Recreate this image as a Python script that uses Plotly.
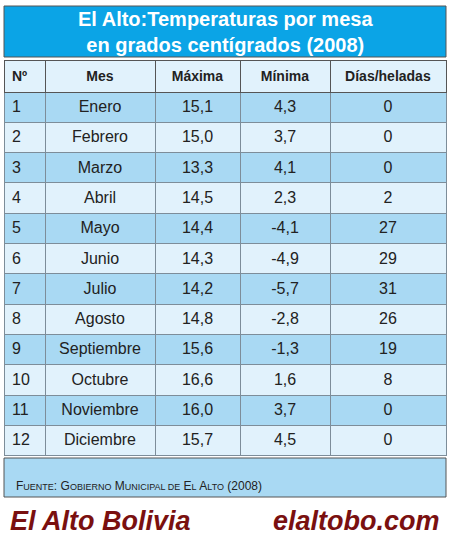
import plotly.graph_objects as go

nums = ["1","2","3","4","5","6","7","8","9","10","11","12"]
meses = ["Enero","Febrero","Marzo","Abril","Mayo","Junio","Julio","Agosto","Septiembre","Octubre","Noviembre","Diciembre"]
maxima = ["15,1","15,0","13,3","14,5","14,4","14,3","14,2","14,8","15,6","16,6","16,0","15,7"]
minima = ["4,3","3,7","4,1","2,3","-4,1","-4,9","-5,7","-2,8","-1,3","1,6","3,7","4,5"]
heladas = ["0","0","0","2","27","29","31","26","19","8","0","0"]
headers = ["Nº","Mes","Máxima","Mínima","Días/heladas"]

W, H = 451, 540
odd, even = "#a9d9f3", "#e1f2fc"
rowcol = [odd if i % 2 == 0 else even for i in range(12)]
F = "Liberation Sans, Arial, sans-serif"

fig = go.Figure(go.Table(
    domain=dict(x=[4/W, 446/W], y=[1-460/H, 1-60/H]),
    columnwidth=[41, 110, 85, 90, 116],
    header=dict(values=["<b>%s</b>" % h for h in headers],
                fill_color="#e1f2fc", line=dict(color="#555", width=1),
                align=["left","center","center","center","center"],
                font=dict(family=F, size=14, color="#222"), height=30),
    cells=dict(values=[nums, meses, maxima, minima, heladas],
               fill_color=[rowcol]*5, line=dict(color="#7d8d99", width=1),
               align=["left","center","center","center","center"],
               font=dict(family=F, size=16, color="#222"), height=30.3),
))

sc = lambda s: "<span style='font-size:9px'>%s</span>" % s
footer = ("F" + sc("UENTE") + ": G" + sc("OBIERNO") + " M" + sc("UNICIPAL DE") +
          " E" + sc("L") + " A" + sc("LTO") + " (2008)")

fig.update_layout(
    width=W, height=H, margin=dict(l=0, r=0, t=0, b=0),
    paper_bgcolor="white", plot_bgcolor="rgba(0,0,0,0)",
    xaxis=dict(visible=False, range=[0, W], domain=[0, 1]),
    yaxis=dict(visible=False, range=[H, 0], domain=[0, 1]),
    shapes=[
        dict(type="rect", xref="x", yref="y", x0=4, x1=446, y0=6, y1=57,
             fillcolor="#0ba4e6", line=dict(color="#555", width=1)),
        dict(type="rect", xref="x", yref="y", x0=4, x1=446, y0=458, y1=497,
             fillcolor=odd, line=dict(color="#555", width=1)),
    ],
    annotations=[
        dict(x=225, y=32, xref="x", yref="y", showarrow=False,
             text="<b>El Alto:Temperaturas por mesa<br>en grados centígrados (2008)</b>",
             font=dict(family=F, size=20, color="white")),
        dict(x=14, y=486, xref="x", yref="y", showarrow=False, xanchor="left",
             text=footer, font=dict(family=F, size=12, color="#222")),
        dict(x=8, y=521, xref="x", yref="y", showarrow=False, xanchor="left",
             text="<b><i>El Alto Bolivia</i></b>", font=dict(family=F, size=27, color="#7a1010")),
        dict(x=442, y=521, xref="x", yref="y", showarrow=False, xanchor="right",
             text="<b><i>elaltobo.com</i></b>", font=dict(family=F, size=27, color="#7a1010")),
    ],
)
fig.write_html("out.html", config={"displayModeBar": False})
with open("out.html", encoding="utf-8") as f:
    html = f.read()
html = html.replace("<body>", '<body style="margin:0;overflow:hidden">', 1)
with open("out.html", "w", encoding="utf-8") as f:
    f.write(html)
